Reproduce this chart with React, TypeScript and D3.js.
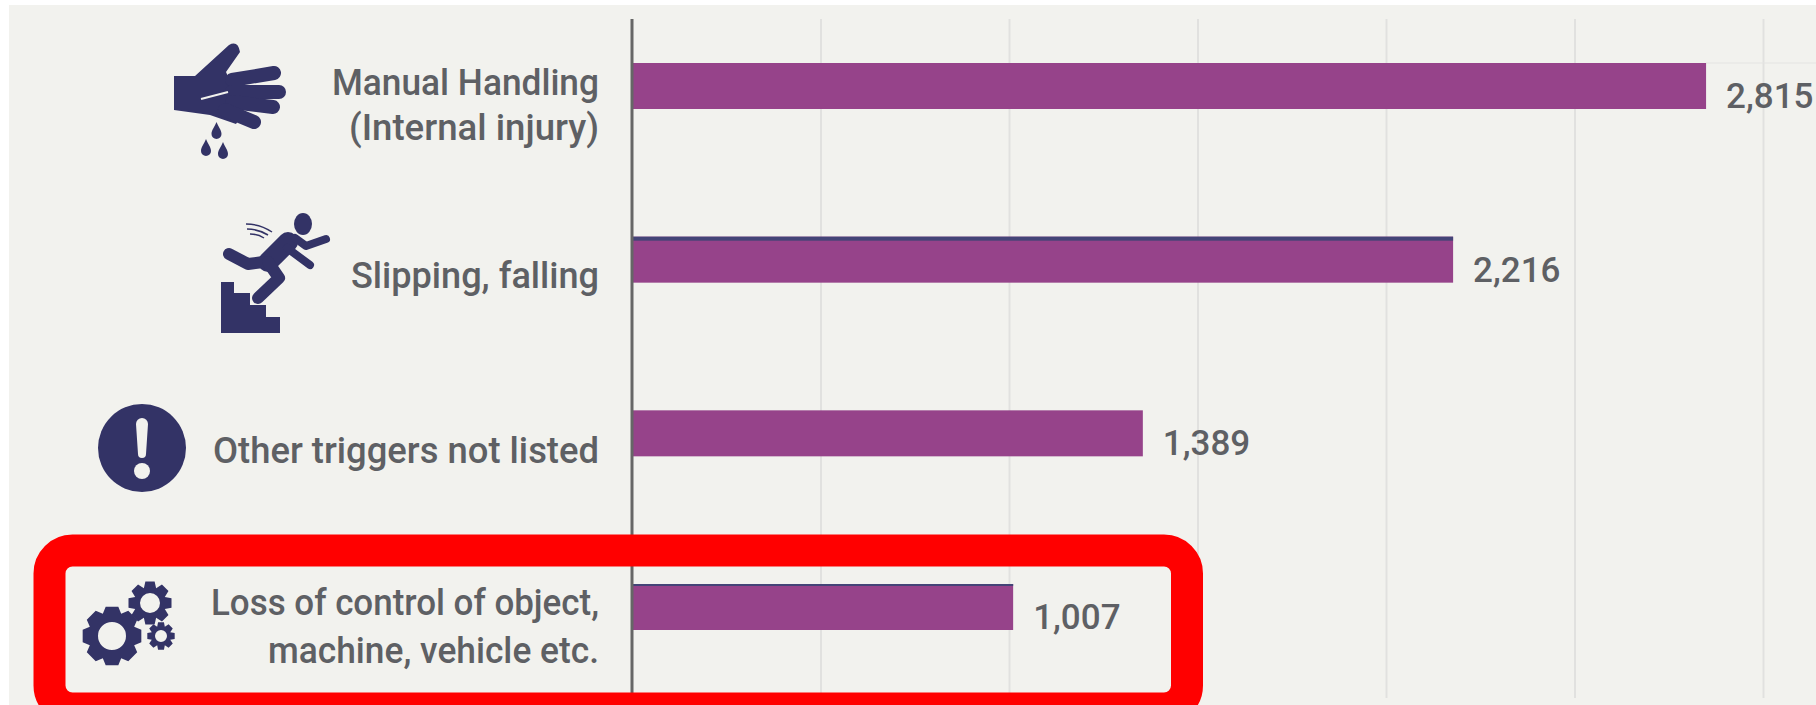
import React, { useEffect, useRef } from "react";
import * as d3 from "d3";

const categories = ["manual", "slipping", "other", "loss"];
const categoryLines = [
  ["Manual Handling", "(Internal injury)"],
  ["Slipping, falling"],
  ["Other triggers not listed"],
  ["Loss of control of object,", "machine, vehicle etc."],
];
// printed values
const printedValues = [2815, 2216, 1389, 1007];
// bar lengths as drawn against the gridlines (source chart is not quite to scale)
const plottedLengths = [2849, 2178, 1355, 1011];
const gridValues = [500, 1000, 1500, 2000, 2500, 3000];
const labelBaselines = [[95, 140], [288], [463], [615, 663]];
// the source font is narrower than anything installed, so line widths are forced
const labelWidths = [[267, 250], [248], [386], [388, 331]];
const barTopLines = [0, 4, 0, 2];

const BG = "#f2f2ee";
const NAVY = "#333366";
const TEXT = "#5e6064";
const FONT = "Roboto, 'Noto Sans', sans-serif";

const gearPath = (cx: number, cy: number, rOut: number, rIn: number, hole: number, teeth: number) => {
  const pts: [number, number][] = [];
  const step = (Math.PI * 2) / teeth;
  for (let i = 0; i < teeth; i++) {
    const a = i * step - Math.PI / 2;
    [[-0.5, rIn], [-0.27, rOut], [0.27, rOut], [0.5, rIn]].forEach(([k, r]) => {
      pts.push([cx + r * Math.cos(a + k * step), cy + r * Math.sin(a + k * step)]);
    });
  }
  const p = d3.path();
  pts.forEach((q, i) => (i ? p.lineTo(q[0], q[1]) : p.moveTo(q[0], q[1])));
  p.closePath();
  p.moveTo(cx + hole, cy);
  p.arc(cx, cy, hole, 0, Math.PI * 2);
  p.closePath();
  return p.toString();
};

const drop = (x: number, y: number) =>
  `M${x},${y - 10} C${x + 2},${y - 5} ${x + 5},${y - 2} ${x + 5},${y + 2} A5,5 0 0 1 ${x - 5},${y + 2} C${x - 5},${y - 2} ${x - 2},${y - 5} ${x},${y - 10}Z`;

const Icons = () => (
  <g>
    {/* hand */}
    <g fill={NAVY} stroke="none">
      <path d="M174,76 L195,76 L229,45 Q238,40 240,52 L226,72 L244,112 L236,124 L210,115 L174,110Z" />
      <g stroke={NAVY} strokeWidth={14} strokeLinecap="round" fill="none">
        <line x1={232} y1={80} x2={274} y2={73} />
        <line x1={232} y1={92} x2={279} y2={92} />
        <line x1={232} y1={102} x2={273} y2={107} />
        <line x1={225} y1={110} x2={254} y2={122} />
      </g>
      <line x1={201} y1={99} x2={228} y2={92} stroke={BG} strokeWidth={2} />
      <path d={drop(216.5, 132)} />
      <path d={drop(206, 149)} />
      <path d={drop(223, 152)} />
    </g>
    {/* falling person */}
    <g>
      <ellipse cx={303} cy={224} rx={9} ry={11} fill={NAVY} />
      <g stroke={NAVY} fill="none" strokeLinecap="round" strokeLinejoin="round">
        <line x1={288} y1={242} x2={268} y2={262} strokeWidth={20} />
        <polyline points="263,262 248,264 229,254" strokeWidth={12} />
        <polyline points="268,262 279,278 258,298" strokeWidth={12} />
        <polyline points="295,238 306,246 326,239" strokeWidth={8} />
        <polyline points="287,248 310,265" strokeWidth={8} />
        <path d="M246,224 Q260,224 272,232 M247,229 Q258,229 268,235 M250,234 Q258,234 264,238" stroke={NAVY} strokeWidth={1.5} strokeLinecap="butt" />
      </g>
      <path fill={NAVY} d="M221,282 H234 V293 H250 V305 H266 V317 H280 V333 H221Z" />
    </g>
    {/* exclamation */}
    <circle cx={142} cy={448} r={44} fill={NAVY} />
    <path fill={BG} d="M136,424 A6,6 0 0 1 148,424 L146,454 A4,4 0 0 1 138,454Z" />
    <circle cx={142} cy={471} r={8} fill={BG} />
    {/* gears */}
    <g fill={NAVY} fillRule="evenodd">
      <path d={gearPath(112, 636, 30, 24, 14, 8)} />
      <path d={gearPath(150, 603, 22, 16, 10, 8)} />
      <path d={gearPath(161, 636, 14, 10, 6, 8)} />
    </g>
  </g>
);

const App = () => {
  const chartRef = useRef<SVGGElement | null>(null);

  useEffect(() => {
    const g = d3.select(chartRef.current);
    g.selectAll("*").remove();

    const x = d3.scaleLinear().domain([0, 3000]).range([632, 1763]);
    const y = d3
      .scaleBand()
      .domain(categories)
      .range([63, 630])
      .paddingInner(127.67 / 173.67)
      .paddingOuter(0);

    // gridlines
    const grid = g
      .append("g")
      .attr("transform", "translate(0,19)")
      .call(
        d3.axisBottom(x).tickValues(gridValues).tickSize(679).tickFormat(() => "")
      );
    grid.select(".domain").remove();
    grid.selectAll("line").attr("stroke", "#e1e1df").attr("stroke-width", 2);

    // faint line running on from the top bar
    g.append("line")
      .attr("x1", x(plottedLengths[0]))
      .attr("x2", 1816)
      .attr("y1", y(categories[0])!)
      .attr("y2", y(categories[0])!)
      .attr("stroke", "#e4e4e2");

    g.selectAll(".bar")
      .data(categories)
      .enter()
      .append("rect")
      .attr("class", "bar")
      .attr("x", x(0))
      .attr("y", (d) => y(d)!)
      .attr("width", (_, i) => x(plottedLengths[i]) - x(0))
      .attr("height", y.bandwidth())
      .attr("fill", "#96438a");

    g.selectAll(".bar-top")
      .data(categories)
      .enter()
      .append("rect")
      .attr("class", "bar-top")
      .attr("x", x(0))
      .attr("y", (d) => y(d)!)
      .attr("width", (_, i) => x(plottedLengths[i]) - x(0))
      .attr("height", (_, i) => barTopLines[i])
      .attr("fill", "#444477");

    // axis line
    g.append("line")
      .attr("x1", x(0))
      .attr("x2", x(0))
      .attr("y1", 19)
      .attr("y2", 698)
      .attr("stroke", "#666666")
      .attr("stroke-width", 3);

    const fmt = d3.format(",");
    g.selectAll(".value")
      .data(categories)
      .enter()
      .append("text")
      .attr("class", "value")
      .attr("x", (_, i) => x(plottedLengths[i]) + 20)
      .attr("y", (d) => y(d)! + y.bandwidth() - 1)
      .attr("font-family", FONT)
      .attr("font-size", 35)
      .attr("font-weight", 500)
      .attr("fill", TEXT)
      .text((_, i) => fmt(printedValues[i]));

    categories.forEach((_, i) => {
      categoryLines[i].forEach((line, j) => {
        g.append("text")
          .attr("x", 599)
          .attr("y", labelBaselines[i][j])
          .attr("text-anchor", "end")
          .attr("font-family", FONT)
          .attr("font-size", 36)
          .attr("font-weight", 500)
          .attr("textLength", labelWidths[i][j])
          .attr("lengthAdjust", "spacingAndGlyphs")
          .attr("fill", TEXT)
          .text(line);
      });
    });
  }, []);

  return (
    <svg
      width={1816}
      height={705}
      style={{ position: "absolute", left: 0, top: 0, display: "block" }}
    >
      <rect x={0} y={0} width={1816} height={705} fill="#ffffff" />
      <rect x={9} y={5} width={1807} height={700} fill={BG} />
      <g ref={chartRef} />
      <Icons />
      {/* red highlight box */}
      <rect x={49.5} y={550.5} width={1137.5} height={158} rx={23} ry={23} fill="none" stroke="#ff0000" strokeWidth={32} />
    </svg>
  );
};

export default App;
